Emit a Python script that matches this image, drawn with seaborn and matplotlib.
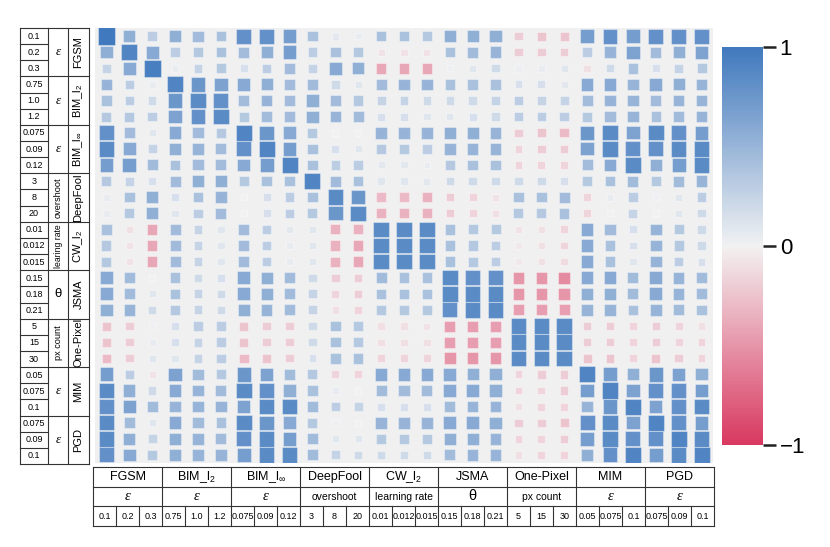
import pandas as pd
import numpy as np
import seaborn as sns
import matplotlib.pyplot as plt
from matplotlib.cm import ScalarMappable
from matplotlib.colors import Normalize

# ataques y parametros
attacks = ['FGSM', 'BIM_l$_2$', r'BIM_l$_\infty$', 'DeepFool', 'CW_l$_2$',
           'JSMA', 'One-Pixel', 'MIM', 'PGD']
param_left = ['ε', 'ε', 'ε', 'overshoot', 'learing rate', 'θ', 'px count', 'ε', 'ε']
param_bottom = ['ε', 'ε', 'ε', 'overshoot', 'learning rate', 'θ', 'px count', 'ε', 'ε']
param_values = [['0.1', '0.2', '0.3'], ['0.75', '1.0', '1.2'], ['0.075', '0.09', '0.12'],
                ['3', '8', '20'], ['0.01', '0.012', '0.015'], ['0.15', '0.18', '0.21'],
                ['5', '15', '30'], ['0.05', '0.075', '0.1'], ['0.075', '0.09', '0.1']]

# matriz de correlacion (filas de arriba a abajo)
corr_rows = [
    [1.0, 0.55, 0.3, 0.55, 0.45, 0.4, 0.8, 0.8, 0.7, 0.4, 0.08, 0.05, 0.4, 0.4, 0.35, 0.55, 0.55, 0.55, -0.2, -0.25, -0.25, 0.7, 0.8, 0.7, 0.8, 0.8, 0.8],
    [0.55, 0.9, 0.6, 0.3, 0.35, 0.4, 0.45, 0.55, 0.7, 0.3, 0.4, 0.35, -0.08, -0.08, -0.08, 0.4, 0.45, 0.5, -0.2, -0.2, -0.2, 0.3, 0.5, 0.65, 0.45, 0.55, 0.65],
    [0.25, 0.6, 0.95, 0.05, 0.25, 0.35, 0.15, 0.3, 0.45, 0.25, 0.6, 0.55, -0.4, -0.4, -0.4, 0.02, 0.1, 0.2, 0.03, 0.05, 0.1, -0.1, 0.2, 0.4, 0.15, 0.25, 0.35],
    [0.5, 0.3, 0.05, 0.9, 0.75, 0.65, 0.6, 0.55, 0.45, 0.45, 0.2, 0.1, 0.45, 0.5, 0.5, 0.4, 0.4, 0.4, 0.15, 0.15, 0.08, 0.6, 0.6, 0.5, 0.6, 0.55, 0.5],
    [0.4, 0.3, 0.2, 0.75, 0.85, 0.8, 0.45, 0.5, 0.45, 0.55, 0.45, 0.35, 0.25, 0.25, 0.2, 0.2, 0.2, 0.25, 0.3, 0.25, 0.25, 0.45, 0.5, 0.5, 0.45, 0.5, 0.5],
    [0.35, 0.35, 0.3, 0.65, 0.8, 0.85, 0.35, 0.45, 0.45, 0.55, 0.5, 0.45, 0.15, 0.15, 0.1, 0.1, 0.15, 0.2, 0.3, 0.3, 0.3, 0.35, 0.45, 0.5, 0.4, 0.45, 0.5],
    [0.8, 0.45, 0.1, 0.6, 0.45, 0.35, 0.9, 0.75, 0.6, 0.35, 0.0, 0.0, 0.5, 0.5, 0.5, 0.55, 0.55, 0.5, -0.2, -0.25, -0.3, 0.75, 0.85, 0.65, 0.85, 0.8, 0.7],
    [0.85, 0.6, 0.25, 0.55, 0.5, 0.45, 0.8, 0.9, 0.7, 0.4, 0.15, 0.1, 0.35, 0.35, 0.3, 0.5, 0.5, 0.5, -0.15, -0.2, -0.2, 0.65, 0.85, 0.8, 0.8, 0.85, 0.85],
    [0.7, 0.7, 0.45, 0.4, 0.45, 0.45, 0.6, 0.7, 0.9, 0.4, 0.3, 0.3, 0.08, 0.08, 0.05, 0.35, 0.4, 0.4, -0.15, -0.15, -0.15, 0.45, 0.6, 0.85, 0.55, 0.7, 0.85],
    [0.35, 0.25, 0.15, 0.45, 0.55, 0.55, 0.35, 0.4, 0.4, 0.9, 0.45, 0.4, 0.1, 0.1, 0.08, 0.2, 0.2, 0.2, 0.2, 0.2, 0.15, 0.35, 0.4, 0.45, 0.35, 0.45, 0.5],
    [0.05, 0.4, 0.55, 0.15, 0.4, 0.5, 0.0, 0.15, 0.3, 0.4, 0.85, 0.75, -0.3, -0.3, -0.35, -0.2, -0.15, -0.08, 0.4, 0.4, 0.45, -0.15, 0.05, 0.3, 0.02, 0.1, 0.3],
    [0.05, 0.35, 0.55, 0.1, 0.3, 0.45, 0.0, 0.15, 0.3, 0.35, 0.75, 0.85, -0.35, -0.35, -0.35, -0.2, -0.15, -0.1, 0.35, 0.35, 0.4, -0.15, 0.0, 0.25, 0.0, 0.1, 0.2],
    [0.4, -0.1, -0.4, 0.45, 0.25, 0.1, 0.45, 0.3, 0.08, 0.1, -0.35, -0.35, 0.85, 0.85, 0.85, 0.4, 0.35, 0.35, -0.08, -0.1, -0.15, 0.6, 0.45, 0.15, 0.5, 0.35, 0.2],
    [0.35, -0.08, -0.4, 0.45, 0.25, 0.1, 0.45, 0.3, 0.05, 0.1, -0.35, -0.4, 0.85, 0.85, 0.85, 0.4, 0.35, 0.3, -0.05, -0.1, -0.15, 0.6, 0.4, 0.15, 0.5, 0.35, 0.2],
    [0.35, -0.08, -0.4, 0.45, 0.25, 0.1, 0.45, 0.3, 0.05, 0.1, -0.35, -0.4, 0.85, 0.85, 0.85, 0.4, 0.35, 0.3, -0.05, -0.1, -0.12, 0.6, 0.4, 0.1, 0.5, 0.3, 0.15],
    [0.6, 0.45, 0.0, 0.4, 0.2, 0.15, 0.6, 0.55, 0.45, 0.2, -0.2, -0.2, 0.45, 0.4, 0.4, 0.85, 0.8, 0.8, -0.5, -0.5, -0.55, 0.6, 0.6, 0.45, 0.6, 0.5, 0.45],
    [0.6, 0.45, 0.1, 0.4, 0.25, 0.2, 0.6, 0.55, 0.45, 0.25, -0.15, -0.2, 0.4, 0.4, 0.4, 0.85, 0.85, 0.85, -0.5, -0.5, -0.5, 0.55, 0.55, 0.45, 0.6, 0.5, 0.45],
    [0.55, 0.5, 0.2, 0.35, 0.25, 0.2, 0.55, 0.5, 0.45, 0.25, -0.1, -0.15, 0.35, 0.35, 0.35, 0.8, 0.85, 0.85, -0.45, -0.45, -0.45, 0.5, 0.5, 0.4, 0.5, 0.45, 0.4],
    [-0.25, -0.2, 0.02, 0.15, 0.3, 0.3, -0.25, -0.2, -0.2, 0.2, 0.4, 0.35, -0.1, -0.1, -0.08, -0.45, -0.45, -0.45, 0.85, 0.85, 0.85, -0.2, -0.2, -0.15, -0.2, -0.15, -0.1],
    [-0.25, -0.2, 0.05, 0.15, 0.25, 0.3, -0.25, -0.2, -0.2, 0.2, 0.4, 0.35, -0.1, -0.1, -0.1, -0.45, -0.45, -0.45, 0.85, 0.85, 0.85, -0.2, -0.2, -0.15, -0.2, -0.15, -0.15],
    [-0.3, -0.2, 0.1, 0.1, 0.25, 0.3, -0.3, -0.25, -0.2, 0.15, 0.4, 0.4, -0.15, -0.15, -0.15, -0.5, -0.5, -0.5, 0.85, 0.85, 0.85, -0.25, -0.25, -0.15, -0.25, -0.2, -0.15],
    [0.7, 0.3, -0.08, 0.65, 0.45, 0.35, 0.75, 0.65, 0.45, 0.35, -0.15, -0.15, 0.6, 0.6, 0.6, 0.6, 0.55, 0.55, -0.15, -0.2, -0.2, 0.9, 0.7, 0.55, 0.75, 0.65, 0.55],
    [0.85, 0.55, 0.2, 0.6, 0.5, 0.45, 0.85, 0.8, 0.55, 0.4, 0.05, 0.0, 0.45, 0.45, 0.45, 0.6, 0.6, 0.55, -0.15, -0.15, -0.2, 0.7, 0.9, 0.65, 0.8, 0.8, 0.7],
    [0.8, 0.65, 0.45, 0.5, 0.5, 0.5, 0.65, 0.85, 0.85, 0.45, 0.3, 0.25, 0.15, 0.15, 0.15, 0.45, 0.5, 0.5, -0.1, -0.15, -0.15, 0.5, 0.75, 0.9, 0.65, 0.8, 0.85],
    [0.85, 0.45, 0.1, 0.6, 0.45, 0.4, 0.85, 0.75, 0.6, 0.35, 0.02, 0.0, 0.5, 0.5, 0.5, 0.6, 0.6, 0.55, -0.2, -0.2, -0.25, 0.8, 0.85, 0.65, 0.9, 0.8, 0.7],
    [0.85, 0.55, 0.25, 0.55, 0.5, 0.45, 0.8, 0.85, 0.7, 0.45, 0.1, 0.1, 0.35, 0.35, 0.35, 0.55, 0.55, 0.5, -0.15, -0.15, -0.2, 0.7, 0.85, 0.8, 0.8, 0.9, 0.85],
    [0.8, 0.6, 0.35, 0.55, 0.5, 0.5, 0.7, 0.85, 0.85, 0.45, 0.25, 0.2, 0.2, 0.2, 0.2, 0.45, 0.5, 0.5, -0.1, -0.15, -0.15, 0.55, 0.8, 0.9, 0.7, 0.85, 0.9],
]

plt.rcParams['font.family'] = ['Liberation Sans', 'DejaVu Sans']
plt.rcParams['mathtext.fontset'] = 'custom'
plt.rcParams['mathtext.rm'] = 'Liberation Sans'
plt.rcParams['mathtext.it'] = 'Liberation Sans:italic'

W, H = 830, 547
fig = plt.figure(figsize=(W / 100, H / 100), dpi=100)


def px_axes(x0, y0, x1, y1):
    return fig.add_axes([x0 / W, 1 - y1 / H, (x1 - x0) / W, (y1 - y0) / H])


# datos en formato largo
n = len(corr_rows)
corr = np.array(corr_rows)
rr, cc = np.meshgrid(np.arange(n), np.arange(n), indexing='ij')
df = pd.DataFrame({'row': rr.ravel(), 'col': cc.ravel(), 'value': corr.ravel()})
# lado del cuadrado ~ lineal con |valor|
df['area'] = (0.36 + 0.64 * df['value'].abs()) ** 2

cmap = sns.diverging_palette(3, 250, s=78, l=50, center='light', as_cmap=True)

# mapa de calor con cuadrados
ax = px_axes(95, 28, 713, 463)
ax.set_facecolor('#f0f0f0')
sns.scatterplot(data=df, x='col', y='row', hue='value', size='area', palette=cmap,
                hue_norm=(-1, 1), sizes=(0, 152), size_norm=(0, 1), marker='s',
                linewidth=0.8, edgecolor=(1, 1, 1, 0.35), legend=False, ax=ax)
ax.set_xlim(-0.5, n - 0.5)
ax.set_ylim(n - 0.5, -0.5)
ax.set_xticks([])
ax.set_yticks([])
ax.set_xlabel('')
ax.set_ylabel('')
for s in ax.spines.values():
    s.set_visible(False)

lc = '#333333'
lw = 0.8
eps_font = dict(family='Liberation Serif', style='italic')

# tabla izquierda
axl = px_axes(20, 28, 89, 464)
axl.set_xlim(0, 69)
axl.set_ylim(n - 0.5, -0.5)
axl.axis('off')
for x in [0, 28, 48, 69]:
    axl.plot([x, x], [-0.5, n - 0.5], color=lc, lw=lw, clip_on=False)
for i in range(n + 1):
    y = i - 0.5
    x1 = 69 if i % 3 == 0 else 28
    axl.plot([0, x1], [y, y], color=lc, lw=lw, clip_on=False)
for g, name in enumerate(attacks):
    yc = g * 3 + 1
    axl.text(58.5, yc, name, rotation=90, ha='center', va='center', fontsize=8)
    p = param_left[g]
    if p in ('ε', 'θ'):
        kw = eps_font if p == 'ε' else {}
        axl.text(38, yc, p, ha='center', va='center', fontsize=9.5, **kw)
    else:
        fs = 6.2 if len(p) > 9 else 6.6
        axl.text(38, yc, p, rotation=90, ha='center', va='center', fontsize=fs)
    for k, v in enumerate(param_values[g]):
        axl.text(14, g * 3 + k, v, ha='center', va='center', fontsize=6.5)

# tabla inferior
axb = px_axes(93, 467, 714, 526)
axb.set_xlim(-0.5, n - 0.5)
axb.set_ylim(3, 0)
axb.axis('off')
for y in [0, 1, 2, 3]:
    axb.plot([-0.5, n - 0.5], [y, y], color=lc, lw=lw, clip_on=False)
for i in range(n + 1):
    x = i - 0.5
    y0 = 0 if i % 3 == 0 else 2
    axb.plot([x, x], [y0, 3], color=lc, lw=lw, clip_on=False)
for g, name in enumerate(attacks):
    xc = g * 3 + 1
    axb.text(xc, 0.5, name, ha='center', va='center', fontsize=9)
    p = param_bottom[g]
    kw = eps_font if p == 'ε' else {}
    fs = 10.5 if p in ('ε', 'θ') else 7.5
    axb.text(xc, 1.5, p, ha='center', va='center', fontsize=fs, **kw)
    for k, v in enumerate(param_values[g]):
        axb.text(g * 3 + k, 2.5, v, ha='center', va='center', fontsize=6.5)

# barra de color
cax = px_axes(722, 47, 763, 445)
cb = fig.colorbar(ScalarMappable(norm=Normalize(-1, 1), cmap=cmap), cax=cax)
cb.outline.set_visible(False)
cb.set_ticks([-1, 0, 1])
cb.set_ticklabels(['\u22121', '0', '1'])
cax.tick_params(length=9, width=1.8, labelsize=16, color='#222222', pad=3)

plt.savefig('out.png', dpi=100)
